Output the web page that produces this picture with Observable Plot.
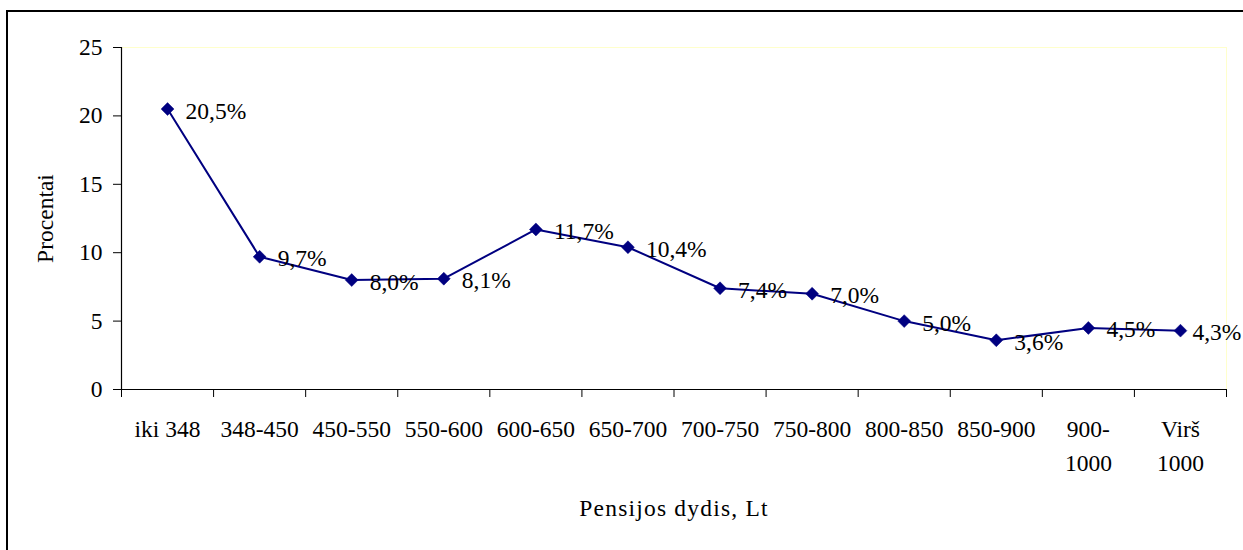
<!DOCTYPE html>
<html>
<head>
<meta charset="utf-8">
<script src="https://cdn.jsdelivr.net/npm/d3@7"></script>
<script src="https://cdn.jsdelivr.net/npm/@observablehq/plot@0.6"></script>
<style>
  html, body { margin: 0; padding: 0; background: #fff; overflow: hidden; }
  #wrap { position: relative; width: 1243px; height: 550px; overflow: hidden; }
  #frame { position: absolute; left: 6px; top: 10px; width: 1300px; height: 700px; border: 2px solid #000; box-sizing: border-box; pointer-events: none; }
  #chart { position: absolute; left: 0; top: 0; }
</style>
</head>
<body>
<div id="wrap"><div id="chart"></div><div id="frame"></div></div>
<script>
const categories = ["iki 348", "348-450", "450-550", "550-600", "600-650", "650-700", "700-750", "750-800", "800-850", "850-900", "900-\n1000", "Virš\n1000"];
const values = [20.5, 9.7, 8.0, 8.1, 11.7, 10.4, 7.4, 7.0, 5.0, 3.6, 4.5, 4.3];
const yTicks = [0, 5, 10, 15, 20, 25];
const xTitle = "Pensijos dydis, Lt";
const yTitle = "Procentai";

const data = categories.map((c, i) => ({cat: c, pos: i + 0.5, value: values[i], last: i === categories.length - 1}));
const bounds = d3.range(0, categories.length + 1);
const centers = data.map(d => d.pos);
const fmt = v => v.toFixed(1).replace(".", ",") + "%";
const navy = "#000080";
const FS = 23.5;

const chart = Plot.plot({
  width: 1243,
  height: 550,
  marginLeft: 121,
  marginRight: 17,
  marginTop: 47,
  marginBottom: 161,
  style: {fontFamily: "'Liberation Serif', 'Times New Roman', serif", fontSize: FS + "px", background: "transparent", color: "#000"},
  x: {domain: [0, categories.length]},
  y: {domain: [0, 25]},
  marks: [
    Plot.frame({stroke: "#ffffcc", strokeWidth: 1}),
    Plot.ruleX([0], {stroke: "#000", strokeWidth: 1.2}),
    Plot.ruleY([0], {stroke: "#000", strokeWidth: 1.2}),
    Plot.axisY({ticks: yTicks, tickSize: 8, tickPadding: 11, fontSize: FS, label: null, stroke: "#000"}),
    Plot.axisX({ticks: bounds, tickSize: 8, tickFormat: () => "", label: null, stroke: "#000"}),
    Plot.axisX({ticks: centers, tickSize: 0, tickPadding: 23, fontSize: FS, lineHeight: 1.45,
      tickFormat: (d) => categories[Math.round(d - 0.5)], label: null}),
    Plot.text([xTitle], {frameAnchor: "bottom", dy: 119, fontSize: FS, lineAnchor: "middle", textAnchor: "middle", text: d => d}),
    Plot.text([yTitle], {frameAnchor: "left", rotate: -90, dx: -76, fontSize: FS, lineAnchor: "middle", textAnchor: "middle", text: d => d}),
    Plot.line(data, {x: "pos", y: "value", stroke: navy, strokeWidth: 2}),
    Plot.dot(data, {x: "pos", y: "value", symbol: "diamond2", fill: navy, stroke: navy, strokeWidth: 0.5, r: 5.8}),
    Plot.text(data.filter(d => !d.last), {x: "pos", y: "value", text: d => fmt(d.value), dx: 18, dy: 2, textAnchor: "start", fontSize: FS, fill: "#000"}),
    Plot.text(data.filter(d => d.last), {x: "pos", y: "value", text: d => fmt(d.value), dx: 12, dy: 2, textAnchor: "start", fontSize: FS, fill: "#000"})
  ]
});
d3.select(chart).selectAll("text").filter(function() { return this.textContent === xTitle; }).style("letter-spacing", "1.2px");
document.getElementById("chart").appendChild(chart);
</script>
</body>
</html>
